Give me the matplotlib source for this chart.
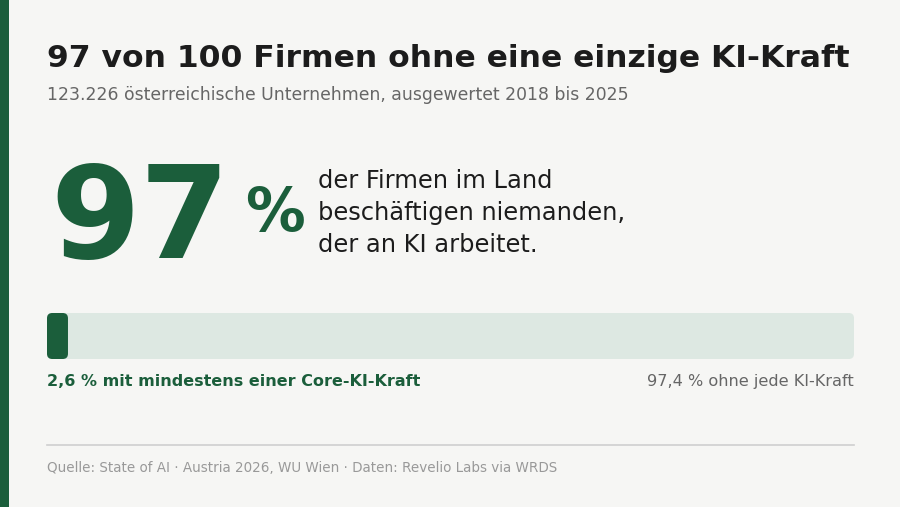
import matplotlib
matplotlib.use('Agg')
from matplotlib import pyplot as plt
from matplotlib.patches import FancyBboxPatch, Rectangle

# data
share_with = 2.6      # % Firmen mit mind. einer Core-KI-Kraft
share_without = 97.4  # % ohne jede KI-Kraft
n_firms = '123.226'
headline_pct = 97

GREEN = '#1b5e3b'
LIGHT = '#dde8e2'
BG = '#f6f6f4'
DARK = '#1c1c1c'
GREY = '#666666'
LGREY = '#999999'

W, H = 900, 507
fig = plt.figure(figsize=(9, 5.07), dpi=100, facecolor=BG)

def px(x, y):
    return x / W, 1 - y / H

def txt(x, y, s, **kw):
    fig.text(*px(x, y), s, va='baseline', family='DejaVu Sans', **kw)

# left accent strip
fig.patches.append(Rectangle((0, 0), 9 / W, 1, transform=fig.transFigure,
                             facecolor=GREEN, edgecolor='none'))

txt(47, 67, '%d von 100 Firmen ohne eine einzige KI-Kraft' % headline_pct,
    fontsize=22.6, fontweight='bold', color=DARK)
txt(47, 100, n_firms + ' österreichische Unternehmen, ausgewertet 2018 bis 2025',
    fontsize=12.4, color=GREY)

txt(50, 258, str(headline_pct), fontsize=93, fontweight='bold', color=GREEN)
txt(245, 231, '%', fontsize=43, fontweight='bold', color=GREEN)

lines = ['der Firmen im Land', 'beschäftigen niemanden,', 'der an KI arbeitet.']
for i, l in enumerate(lines):
    txt(318, 188 + i * 32, l, fontsize=17.4, color=DARK)

# bar
ax = fig.add_axes([47 / W, 1 - 359 / H, 807 / W, 46 / H])
ax.set_xlim(0, 100)
ax.set_ylim(0, 1)
ax.axis('off')
bars = ax.barh([0.5], [share_with + share_without], height=1, color='none')
fills = ax.barh([0.5], [share_with], height=1, color='none')
asp = (807 / 100) / 46  # data-y per data-x in pixels ratio
for b, c in [(bars[0], LIGHT), (fills[0], GREEN)]:
    p = FancyBboxPatch((b.get_x(), b.get_y()), b.get_width(), b.get_height(),
                       boxstyle='round,pad=0,rounding_size=0.65',
                       mutation_aspect=asp, facecolor=c, edgecolor='none',
                       transform=ax.transData, clip_on=False)
    ax.add_patch(p)

txt(47, 386, ('%.1f' % share_with).replace('.', ',') + ' % mit mindestens einer Core-KI-Kraft',
    fontsize=11.5, fontweight='bold', color=GREEN)
fig.text(854 / W, 1 - 386 / H,
         ('%.1f' % share_without).replace('.', ',') + ' % ohne jede KI-Kraft',
         ha='right', va='baseline', fontsize=11.6, color=GREY, family='DejaVu Sans')

# divider + footer
fig.lines.append(plt.Line2D([47 / W, 854 / W], [1 - 445 / H] * 2,
                            transform=fig.transFigure, color='#cfcfcf', lw=1.2))
txt(47, 472, 'Quelle: State of AI · Austria 2026, WU Wien · Daten: Revelio Labs via WRDS',
    fontsize=9.75, color=LGREY)

fig.savefig('out.png', dpi=100, facecolor=BG)
